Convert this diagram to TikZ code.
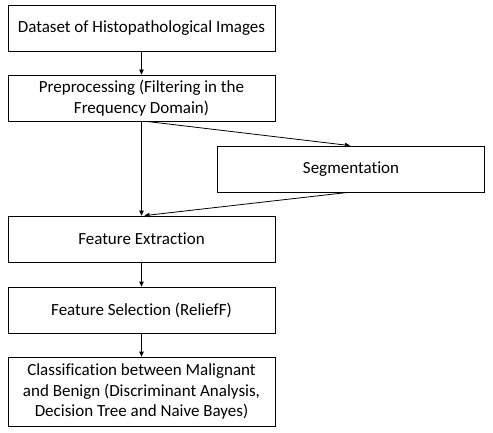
\documentclass[tikz,border=0pt]{standalone}
\usepackage{fontspec}
\setmainfont{Carlito}[Ligatures={NoCommon}]
\usetikzlibrary{arrows.meta}
\begin{document}
\begin{tikzpicture}[x=1pt,y=-1pt,
  blk/.style={draw,line width=0.8pt,rectangle,inner sep=0pt,minimum width=267pt,minimum height=46pt,align=center,font=\fontsize{17}{20.8}\selectfont},
  arr/.style={draw,line width=0.8pt,-{Triangle[length=5pt,width=4.5pt]}}]
\useasboundingbox[fill=white] (0,0) rectangle (493,433);
\node[blk] (b1) at (141.5,28) {Dataset of Histopathological Images};
\node[blk] (b2) at (141.5,98) {Preprocessing (Filtering in the\\Frequency Domain)};
\node[blk] (seg) at (351,169) {Segmentation};
\node[blk] (b4) at (141.5,239) {Feature Extraction};
\node[blk] (b5) at (141.5,310) {Feature Selection (ReliefF)};
\node[blk,minimum height=69pt] (b6) at (141.5,391.5) {Classification between Malignant\\and Benign (Discriminant Analysis,\\Decision Tree and Naive Bayes)};
\coordinate (p2) at ([xshift=5pt]b2.south);
\coordinate (p4) at ([xshift=3pt]b4.north);
\coordinate (sn) at ([xshift=-1pt]seg.north);
\coordinate (ss) at ([xshift=-3pt]seg.south);
\draw[arr] (b1.south) -- (b2.north);
\draw[arr] (b2.south) -- (b4.north);
\draw[arr] (p2) -- (sn);
\draw[arr] (ss) -- (p4);
\draw[arr] (b4.south) -- (b5.north);
\draw[arr] (b5.south) -- (b6.north);
\end{tikzpicture}
\end{document}
